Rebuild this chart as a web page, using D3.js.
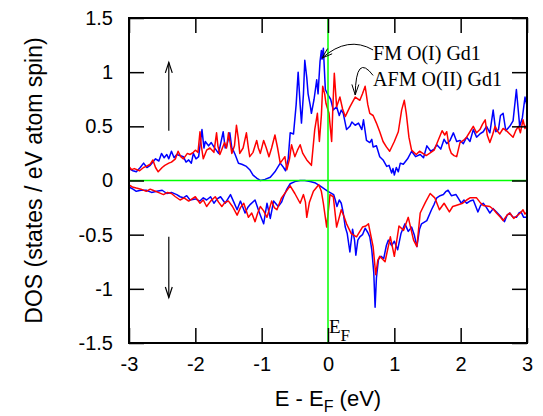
<!DOCTYPE html>
<html>
<head>
<meta charset="utf-8">
<script src="https://cdn.jsdelivr.net/npm/d3@7"></script>
<style>
  body { margin: 0; background: #fff; }
  svg { display: block; }
  .tick text { font-family: "Liberation Sans", Arial, sans-serif; font-size: 20px; fill: #000; }
</style>
</head>
<body>
<svg id="dos" width="543" height="416"></svg>
<script>
// DOS curves, [E - EF (eV), DOS]
var fmUp = [[-3.0,0.11],[-2.94,0.09],[-2.89,0.08],[-2.83,0.12],[-2.78,0.16],[-2.73,0.12],[-2.68,0.14],[-2.6,0.2],[-2.55,0.18],[-2.51,0.25],
  [-2.47,0.21],[-2.43,0.24],[-2.4,0.2],[-2.36,0.27],[-2.32,0.21],[-2.28,0.24],[-2.18,0.22],[-2.14,0.17],[-2.1,0.19],[-2.06,0.16],[-2.03,0.25],
  [-1.99,0.2],[-1.95,0.22],[-1.9,0.47],[-1.87,0.3],[-1.85,0.36],[-1.8,0.32],[-1.76,0.35],[-1.72,0.31],[-1.65,0.25],[-1.58,0.45],[-1.55,0.3],
  [-1.53,0.31],[-1.48,0.44],[-1.45,0.3],[-1.43,0.28],[-1.4,0.24],[-1.35,0.16],[-1.3,0.15],[-1.23,0.13],[-1.18,0.1],[-1.13,0.05],[-1.07,0.02],
  [-1.02,0.0],[-0.95,0.01],[-0.87,0.03],[-0.8,0.08],[-0.72,0.16],[-0.67,0.12],[-0.64,0.09],[-0.6,0.2],[-0.57,0.44],[-0.52,0.43],[-0.48,0.7],
  [-0.45,1.0],[-0.42,0.7],[-0.4,0.53],[-0.37,0.8],[-0.35,1.11],[-0.32,0.95],[-0.3,0.8],[-0.27,0.7],[-0.25,0.62],[-0.21,0.75],[-0.17,0.93],
  [-0.15,0.8],[-0.12,1.1],[-0.1,1.2],[-0.09,1.12],[-0.07,1.22],[-0.04,0.84],[0.0,0.79],[0.04,0.75],[0.08,0.65],[0.13,0.68],[0.17,0.6],
  [0.2,0.65],[0.23,0.62],[0.28,0.47],[0.33,0.5],[0.36,0.54],[0.41,0.51],[0.46,0.53],[0.51,0.47],[0.535,0.56],[0.58,0.37],[0.63,0.35],
  [0.66,0.38],[0.68,0.31],[0.73,0.32],[0.78,0.22],[0.83,0.19],[0.885,0.13],[0.92,0.14],[0.96,0.07],[0.98,0.11],[1.0,0.05],[1.03,0.12],
  [1.06,0.08],[1.09,0.16],[1.135,0.15],[1.2,0.2],[1.26,0.27],[1.32,0.22],[1.39,0.24],[1.44,0.21],[1.49,0.32],[1.55,0.27],[1.6,0.29],
  [1.64,0.33],[1.7,0.29],[1.75,0.38],[1.79,0.34],[1.84,0.37],[1.89,0.44],[1.94,0.36],[1.99,0.37],[2.04,0.34],[2.09,0.4],[2.14,0.36],
  [2.19,0.47],[2.24,0.4],[2.29,0.43],[2.34,0.45],[2.39,0.5],[2.44,0.44],[2.49,0.65],[2.53,0.45],[2.57,0.47],[2.6,0.6],[2.64,0.62],
  [2.68,0.46],[2.74,0.5],[2.79,0.55],[2.84,0.84],[2.89,0.5],[2.93,0.58],[2.97,0.77],[3.0,0.69]];

var afmUp = [[-3.0,0.13],[-2.96,0.1],[-2.92,0.11],[-2.84,0.09],[-2.78,0.12],[-2.74,0.13],[-2.68,0.15],[-2.64,0.19],[-2.6,0.12],[-2.56,0.08],
  [-2.5,0.12],[-2.46,0.14],[-2.4,0.16],[-2.36,0.17],[-2.3,0.2],[-2.26,0.27],[-2.22,0.22],[-2.18,0.2],[-2.12,0.25],[-2.08,0.24],[-2.03,0.26],
  [-2.0,0.28],[-1.96,0.26],[-1.93,0.45],[-1.91,0.32],[-1.88,0.2],[-1.83,0.28],[-1.78,0.3],[-1.72,0.26],[-1.68,0.44],[-1.66,0.32],[-1.63,0.24],
  [-1.56,0.35],[-1.53,0.3],[-1.5,0.44],[-1.47,0.33],[-1.45,0.25],[-1.41,0.32],[-1.38,0.51],[-1.35,0.38],[-1.33,0.25],[-1.28,0.3],[-1.23,0.44],
  [-1.2,0.3],[-1.18,0.22],[-1.13,0.26],[-1.075,0.37],[-1.05,0.3],[-1.02,0.25],[-0.97,0.37],[-0.93,0.3],[-0.89,0.22],[-0.85,0.3],[-0.8,0.42],
  [-0.76,0.3],[-0.72,0.16],[-0.65,0.22],[-0.62,0.1],[-0.58,0.2],[-0.55,0.33],[-0.5,0.22],[-0.46,0.28],[-0.42,0.33],[-0.38,0.25],[-0.32,0.19],
  [-0.25,0.14],[-0.2,0.47],[-0.16,0.62],[-0.13,0.36],[-0.1,0.6],[-0.08,0.87],[-0.05,0.8],[-0.03,0.71],[0.015,0.62],[0.055,0.36],[0.075,0.7],
  [0.095,0.99],[0.13,0.68],[0.18,0.77],[0.22,0.66],[0.26,0.59],[0.33,0.68],[0.41,0.77],[0.48,0.74],[0.52,0.8],[0.56,0.87],[0.6,0.7],
  [0.63,0.62],[0.68,0.6],[0.73,0.53],[0.78,0.45],[0.83,0.36],[0.88,0.31],[0.93,0.27],[1.0,0.36],[1.06,0.45],[1.11,0.65],[1.15,0.74],
  [1.18,0.62],[1.22,0.4],[1.26,0.28],[1.33,0.24],[1.38,0.27],[1.43,0.25],[1.48,0.23],[1.53,0.25],[1.6,0.28],[1.66,0.37],[1.72,0.46],
  [1.76,0.42],[1.79,0.45],[1.83,0.3],[1.86,0.25],[1.9,0.23],[1.94,0.22],[1.99,0.35],[2.04,0.37],[2.09,0.4],[2.14,0.45],[2.19,0.5],
  [2.24,0.44],[2.29,0.47],[2.33,0.52],[2.37,0.56],[2.4,0.42],[2.44,0.35],[2.48,0.42],[2.52,0.5],[2.55,0.46],[2.59,0.43],[2.64,0.48],
  [2.69,0.46],[2.74,0.43],[2.79,0.4],[2.83,0.46],[2.87,0.5],[2.9,0.44],[2.94,0.56],[2.97,0.48],[3.0,0.52]];

var fmDn = [[-3.0,-0.06],[-2.94,-0.08],[-2.89,-0.1],[-2.82,-0.09],[-2.74,-0.09],[-2.66,-0.11],[-2.58,-0.1],[-2.5,-0.09],[-2.43,-0.12],
  [-2.36,-0.11],[-2.28,-0.13],[-2.23,-0.15],[-2.18,-0.16],[-2.13,-0.14],[-2.08,-0.18],[-2.0,-0.17],[-1.93,-0.19],[-1.88,-0.16],[-1.83,-0.18],
  [-1.77,-0.15],[-1.72,-0.21],[-1.67,-0.17],[-1.62,-0.15],[-1.55,-0.21],[-1.5,-0.16],[-1.47,-0.13],[-1.42,-0.2],[-1.37,-0.27],[-1.32,-0.19],
  [-1.25,-0.3],[-1.21,-0.25],[-1.17,-0.22],[-1.1,-0.18],[-1.05,-0.27],[-1.02,-0.32],[-0.97,-0.4],[-0.92,-0.21],[-0.87,-0.35],[-0.82,-0.19],
  [-0.75,-0.24],[-0.7,-0.2],[-0.67,-0.15],[-0.62,-0.08],[-0.57,-0.03],[-0.5,-0.01],[-0.42,0.0],[-0.35,0.0],[-0.27,-0.01],[-0.2,-0.02],
  [-0.12,-0.05],[-0.05,-0.08],[0.0,-0.1],[0.085,-0.13],[0.11,-0.18],[0.135,-0.24],[0.17,-0.18],[0.2,-0.21],[0.23,-0.3],[0.26,-0.43],
  [0.29,-0.49],[0.33,-0.66],[0.37,-0.45],[0.4,-0.55],[0.42,-0.69],[0.45,-0.55],[0.48,-0.52],[0.52,-0.5],[0.56,-0.44],[0.6,-0.48],[0.63,-0.52],
  [0.66,-0.64],[0.69,-0.85],[0.71,-1.17],[0.73,-0.9],[0.76,-0.73],[0.8,-0.7],[0.84,-0.72],[0.88,-0.6],[0.91,-0.55],[0.96,-0.6],[1.0,-0.56],
  [1.05,-0.64],[1.1,-0.49],[1.16,-0.4],[1.21,-0.47],[1.26,-0.43],[1.3,-0.5],[1.34,-0.61],[1.38,-0.45],[1.41,-0.4],[1.49,-0.37],[1.56,-0.27],
  [1.6,-0.22],[1.64,-0.16],[1.69,-0.14],[1.74,-0.13],[1.78,-0.1],[1.81,-0.09],[1.86,-0.14],[1.93,-0.13],[1.97,-0.17],[2.01,-0.21],[2.05,-0.18],
  [2.09,-0.21],[2.14,-0.19],[2.19,-0.18],[2.26,-0.29],[2.3,-0.23],[2.34,-0.21],[2.39,-0.25],[2.44,-0.3],[2.49,-0.26],[2.54,-0.29],[2.6,-0.33],
  [2.66,-0.38],[2.7,-0.32],[2.74,-0.3],[2.79,-0.34],[2.84,-0.34],[2.88,-0.3],[2.91,-0.29],[2.95,-0.34],[3.0,-0.34]];

var afmDn = [[-3.0,-0.04],[-2.95,-0.06],[-2.89,-0.07],[-2.82,-0.08],[-2.74,-0.1],[-2.68,-0.08],[-2.64,-0.09],[-2.56,-0.11],[-2.48,-0.13],
  [-2.42,-0.11],[-2.36,-0.12],[-2.3,-0.15],[-2.23,-0.18],[-2.17,-0.16],[-2.1,-0.19],[-2.05,-0.17],[-2.0,-0.15],[-1.93,-0.21],[-1.88,-0.18],
  [-1.83,-0.24],[-1.77,-0.19],[-1.7,-0.15],[-1.65,-0.2],[-1.6,-0.24],[-1.55,-0.2],[-1.5,-0.19],[-1.44,-0.24],[-1.37,-0.32],[-1.32,-0.25],
  [-1.27,-0.21],[-1.2,-0.34],[-1.15,-0.3],[-1.1,-0.38],[-1.06,-0.3],[-1.02,-0.24],[-0.97,-0.28],[-0.92,-0.34],[-0.85,-0.19],[-0.81,-0.25],
  [-0.77,-0.27],[-0.7,-0.16],[-0.63,-0.1],[-0.57,-0.05],[-0.5,-0.12],[-0.42,-0.21],[-0.37,-0.13],[-0.34,-0.2],[-0.32,-0.34],[-0.28,-0.2],
  [-0.22,-0.1],[-0.14,-0.04],[-0.1,-0.1],[-0.07,-0.21],[-0.02,-0.43],[0.03,-0.13],[0.08,-0.15],[0.13,-0.43],[0.2,-0.27],[0.24,-0.33],
  [0.28,-0.4],[0.35,-0.49],[0.43,-0.52],[0.52,-0.43],[0.57,-0.42],[0.61,-0.4],[0.68,-0.61],[0.72,-0.87],[0.75,-0.74],[0.78,-0.7],[0.86,-0.75],
  [0.94,-0.52],[1.0,-0.7],[1.07,-0.42],[1.14,-0.46],[1.21,-0.34],[1.29,-0.55],[1.34,-0.61],[1.39,-0.3],[1.47,-0.2],[1.54,-0.12],[1.61,-0.16],
  [1.68,-0.27],[1.75,-0.21],[1.83,-0.29],[1.88,-0.24],[1.93,-0.23],[2.03,-0.21],[2.09,-0.18],[2.14,-0.16],[2.24,-0.16],[2.29,-0.2],[2.34,-0.23],
  [2.44,-0.24],[2.5,-0.27],[2.54,-0.3],[2.6,-0.34],[2.64,-0.37],[2.7,-0.32],[2.74,-0.3],[2.8,-0.35],[2.84,-0.33],[2.9,-0.3],[2.94,-0.27],
  [2.97,-0.31],[3.0,-0.29]];

var xTicks = [-3, -2, -1, 0, 1, 2, 3];
var yTicks = [-1.5, -1, -0.5, 0, 0.5, 1, 1.5];

var svg = d3.select("#dos"),
    margin = {top: 18, right: 16, bottom: 73, left: 129},
    width = +svg.attr("width") - margin.left - margin.right,
    height = +svg.attr("height") - margin.top - margin.bottom,
    g = svg.append("g").attr("transform", "translate(" + margin.left + "," + margin.top + ")");

var x = d3.scaleLinear().domain([-3, 3]).range([0, width]);
var y = d3.scaleLinear().domain([-1.5, 1.5]).range([height, 0]);
// gnuplot style labels: plain hyphen for the minus sign
var fmt = function(d) { return d3.format("~g")(d).replace("\u2212", "-"); };

var line = d3.line()
    .x(function(d) { return x(d[0]); })
    .y(function(d) { return y(d[1]); });

// curves
[[fmUp, "#0000ff"], [fmDn, "#0000ff"], [afmUp, "#ff0000"], [afmDn, "#ff0000"]].forEach(function(s) {
  g.append("path")
    .datum(s[0])
    .attr("fill", "none")
    .attr("stroke", s[1])
    .attr("stroke-width", 1.5)
    .attr("stroke-linejoin", "round")
    .attr("d", line);
});

// zero lines
g.append("line").attr("x1", 0).attr("x2", width).attr("y1", y(0)).attr("y2", y(0))
  .attr("stroke", "#00ff00").attr("stroke-width", 1.5);
g.append("line").attr("x1", x(0)).attr("x2", x(0)).attr("y1", 0).attr("y2", height)
  .attr("stroke", "#00ff00").attr("stroke-width", 1.5);

// axes, ticks pointing inward
function styleAxis(sel) {
  sel.select(".domain").remove();
  sel.selectAll(".tick line").attr("stroke", "#000").attr("stroke-width", 1.5);
}
g.append("g").attr("transform", "translate(0," + height + ")")
  .call(d3.axisBottom(x).tickValues(xTicks).tickFormat(fmt).tickSizeInner(-15).tickSizeOuter(0).tickPadding(14))
  .call(styleAxis);
g.append("g")
  .call(d3.axisTop(x).tickValues(xTicks).tickFormat("").tickSizeInner(-15).tickSizeOuter(0))
  .call(styleAxis);
g.append("g")
  .call(d3.axisLeft(y).tickValues(yTicks).tickFormat(fmt).tickSizeInner(-15).tickSizeOuter(0).tickPadding(16))
  .call(styleAxis);
g.append("g").attr("transform", "translate(" + width + ",0)")
  .call(d3.axisRight(y).tickValues(yTicks).tickFormat("").tickSizeInner(-15).tickSizeOuter(0))
  .call(styleAxis);
svg.selectAll(".tick text").attr("font-family", null).attr("font-size", null);

g.append("rect").attr("width", width).attr("height", height)
  .attr("fill", "none").attr("stroke", "#000").attr("stroke-width", 2);

// spin arrows
var spinArrows = [[-2.4, 0.46, 1.09], [-2.4, -0.52, -1.08]];
function arrowHead(px, py, ang) {
  var L = 11, w = 0.32;
  var p = d3.path();
  p.moveTo(px - L * Math.cos(ang - w), py - L * Math.sin(ang - w));
  p.lineTo(px, py);
  p.lineTo(px - L * Math.cos(ang + w), py - L * Math.sin(ang + w));
  return p.toString();
}
spinArrows.forEach(function(a) {
  var x0 = x(a[0]), y0 = y(a[1]), y1 = y(a[2]);
  g.append("line").attr("x1", x0).attr("x2", x0).attr("y1", y0).attr("y2", y1)
    .attr("stroke", "#000").attr("stroke-width", 1.2);
  g.append("path").attr("d", arrowHead(x0, y1, Math.atan2(y1 - y0, 0)))
    .attr("fill", "none").attr("stroke", "#000").attr("stroke-width", 1.2);
});

// curved pointers to the labels: start, control, tip (data coords)
var pointers = [
  [[0.68, 1.205], [0.3, 1.34], [-0.09, 1.13]],
  [[0.68, 0.97], [0.42, 1.18], [0.41, 0.79]]
];
pointers.forEach(function(p) {
  var s = [x(p[0][0]), y(p[0][1])], c = [x(p[1][0]), y(p[1][1])], t = [x(p[2][0]), y(p[2][1])];
  var path = d3.path();
  path.moveTo(s[0], s[1]);
  path.quadraticCurveTo(c[0], c[1], t[0], t[1]);
  g.append("path").attr("d", path.toString()).attr("fill", "none").attr("stroke", "#000").attr("stroke-width", 1);
  g.append("path").attr("d", arrowHead(t[0], t[1], Math.atan2(t[1] - c[1], t[0] - c[0])))
    .attr("fill", "none").attr("stroke", "#000").attr("stroke-width", 1);
});

var labels = [["FM O(I) Gd1", 0.68, 1.11], ["AFM O(II) Gd1", 0.68, 0.87]];
labels.forEach(function(l) {
  g.append("text").attr("x", x(l[1])).attr("y", y(l[2]))
    .attr("font-family", "'Liberation Serif', 'Times New Roman', serif").attr("font-size", 20)
    .text(l[0]);
});

// E_F marker
var ef = g.append("text").attr("x", x(0.015)).attr("y", y(-1.41))
  .attr("font-family", "'Liberation Serif', 'Times New Roman', serif").attr("font-size", 19);
ef.append("tspan").text("E");
ef.append("tspan").attr("font-size", 17).attr("dy", 8).text("F");

// axis titles
var xt = svg.append("text")
  .attr("x", margin.left + width / 2).attr("y", 406)
  .attr("text-anchor", "middle")
  .attr("font-family", "'Liberation Sans', Arial, sans-serif").attr("font-size", 22);
xt.append("tspan").text("E - E");
xt.append("tspan").attr("font-size", 16).attr("dy", 6).text("F");
xt.append("tspan").attr("dy", -6).text(" (eV)");

svg.append("text")
  .attr("transform", "translate(42," + (margin.top + height / 2) + ") rotate(-90)")
  .attr("text-anchor", "middle")
  .attr("font-family", "'Liberation Sans', Arial, sans-serif").attr("font-size", 23)
  .text("DOS (states / eV atom spin)");
</script>
</body>
</html>
